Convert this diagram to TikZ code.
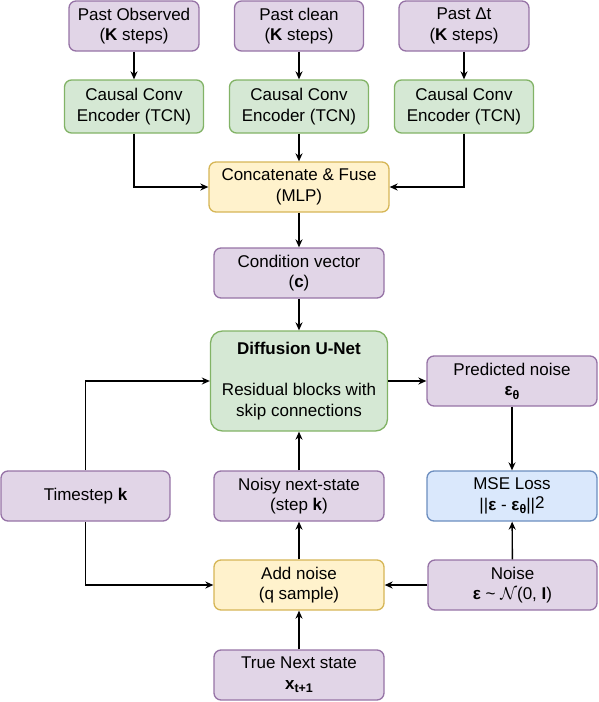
\documentclass[tikz,border=0pt]{standalone}
\usepackage{fontspec}
\setmainfont{Liberation Sans}
\usetikzlibrary{arrows.meta}
\definecolor{pfill}{HTML}{E1D5E7}\definecolor{pdraw}{HTML}{9673A6}
\definecolor{gfill}{HTML}{D5E8D4}\definecolor{gdraw}{HTML}{82B366}
\definecolor{yfill}{HTML}{FFF2CC}\definecolor{ydraw}{HTML}{D6B656}
\definecolor{bfill}{HTML}{DAE8FC}\definecolor{bdraw}{HTML}{6C8EBF}
\newcommand{\mysub}[1]{\raisebox{-3.5pt}{\fontsize{12.5}{12.5}\selectfont\textbf{#1}}}
\newcommand{\epsth}{\textbf{ε}\mysub{θ}}
\begin{document}
\begin{tikzpicture}[x=1pt,y=-1pt,
  box/.style={rounded corners=7pt,line width=1.3pt,inner sep=0pt,align=center,
    font=\fontsize{17}{20.5}\selectfont,minimum height=50pt},
  purp/.style={box,fill=pfill,draw=pdraw},
  grn/.style={box,fill=gfill,draw=gdraw},
  yel/.style={box,fill=yfill,draw=ydraw},
  blu/.style={box,fill=bfill,draw=bdraw},
  conn/.style={line width=1.4pt,-{Stealth[length=8pt,width=7pt]}}]
\useasboundingbox (0,0) rectangle (598,702);
\node[purp,minimum width=130pt] (po) at (134,26) {Past Observed\\(\textbf{K} steps)};
\node[purp,minimum width=129pt] (pc) at (299,26) {Past clean\\(\textbf{K} steps)};
\node[purp,minimum width=130pt] (pd) at (464,26) {Past Δt\\(\textbf{K} steps)};
\node[grn,minimum width=139pt,minimum height=53pt] (e1) at (134,106.5) {Causal Conv\\Encoder (TCN)};
\node[grn,minimum width=139pt,minimum height=53pt] (e2) at (299,106.5) {Causal Conv\\Encoder (TCN)};
\node[grn,minimum width=139pt,minimum height=53pt] (e3) at (464,106.5) {Causal Conv\\Encoder (TCN)};
\node[yel,minimum width=180pt] (cat) at (299,187) {Concatenate \& Fuse\\(MLP)};
\node[purp,minimum width=170pt] (cond) at (299,273) {Condition vector\\(\textbf{c})};
\node[grn,minimum width=177pt,minimum height=100pt,rounded corners=12pt] (unet) at (299,381) {\textbf{Diffusion U-Net}\\[20.5pt]Residual blocks with\\skip connections};
\node[purp,minimum width=170pt] (pn) at (512,381) {Predicted noise\\\epsth};
\node[blu,minimum width=170pt] (mse) at (512,496) {MSE Loss\\||\textbf{ε} - \epsth||\raisebox{1.5pt}{2}};
\node[purp,minimum width=169pt] (ts) at (85.5,496) {Timestep \textbf{k}};
\node[purp,minimum width=170pt] (noisy) at (299,496) {Noisy next-state\\(step \textbf{k})};
\node[yel,minimum width=170pt] (add) at (299,585) {Add noise\\(q sample)};
\node[purp,minimum width=169pt] (noise) at (512.5,585) {Noise\\\textbf{ε} \textasciitilde{} $\mathcal{N}$(0, $\mathbf{I}$)};
\node[purp,minimum width=170pt] (tns) at (299,675) {True Next state\\\textbf{x}\mysub{t+1}};
\draw[conn] (po) -- (e1);
\draw[conn] (pc) -- (e2);
\draw[conn] (pd) -- (e3);
\draw[conn] (e1.south) |- (cat.west);
\draw[conn] (e2) -- (cat);
\draw[conn] (e3.south) |- (cat.east);
\draw[conn] (cat) -- (cond);
\draw[conn] (cond) -- (unet);
\draw[conn] (ts.north) |- (unet.west);
\draw[conn] (ts.south) |- (add.west);
\draw[conn] (unet) -- (pn);
\draw[conn] (pn) -- (mse);
\draw[conn] (noise) -- (mse);
\draw[conn] (noise) -- (add);
\draw[conn] (add) -- (noisy);
\draw[conn] (noisy) -- (unet);
\draw[conn] (tns) -- (add);
\end{tikzpicture}
\end{document}
